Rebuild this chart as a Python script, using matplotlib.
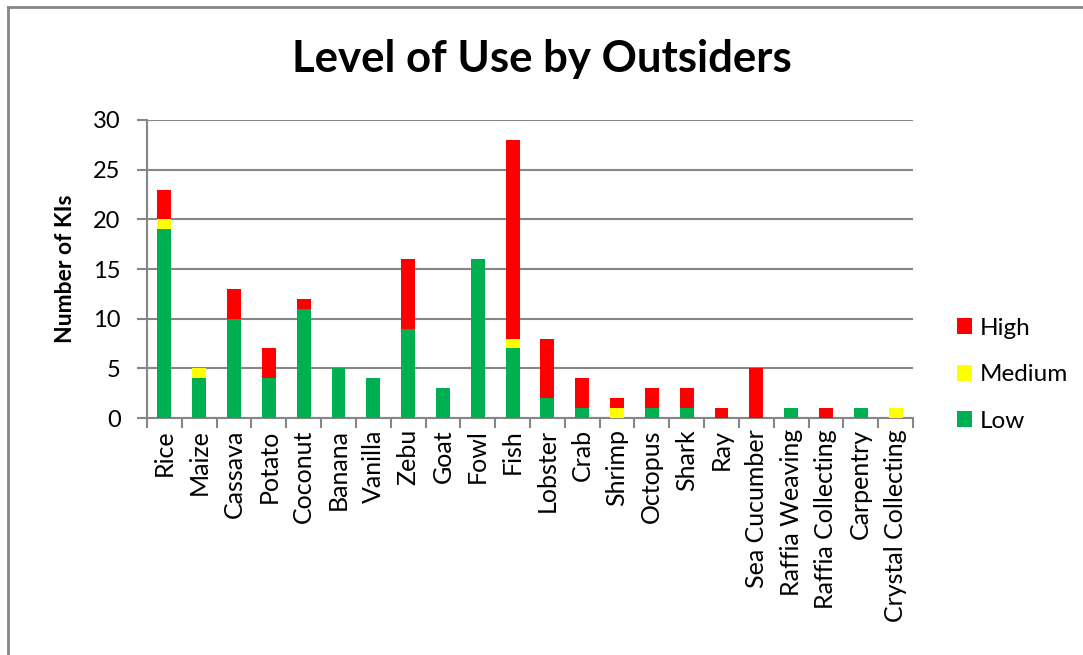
import matplotlib
matplotlib.use("Agg")
import numpy as np
import matplotlib.pyplot as plt
from matplotlib.lines import Line2D

plt.rcParams['font.family'] = ['Lato', 'DejaVu Sans']

# number of key informants per resource and level of use
categories = ['Rice', 'Maize', 'Cassava', 'Potato', 'Coconut', 'Banana', 'Vanilla',
              'Zebu', 'Goat', 'Fowl', 'Fish', 'Lobster', 'Crab', 'Shrimp', 'Octopus',
              'Shark', 'Ray', 'Sea Cucumber', 'Raffia Weaving', 'Raffia Collecting',
              'Carpentry', 'Crystal Collecting']
low    = [19, 4, 10, 4, 11, 5, 4, 9, 3, 16, 7, 2, 1, 0, 1, 1, 0, 0, 1, 0, 1, 0]
medium = [1, 1, 0, 0, 0, 0, 0, 0, 0, 0, 1, 0, 0, 1, 0, 0, 0, 0, 0, 0, 0, 1]
high   = [3, 0, 3, 3, 1, 0, 0, 7, 0, 0, 20, 6, 3, 1, 2, 2, 1, 5, 0, 1, 0, 0]

fig = plt.figure(figsize=(10.83, 6.55), dpi=100)
ax = fig.add_axes([0.1357, 0.3618, 0.7073, 0.455])

x = np.arange(len(categories))
low = np.array(low)
medium = np.array(medium)
high = np.array(high)
w = 0.4
ax.bar(x, low, w, color='#00b050', label='Low', zorder=3)
ax.bar(x, medium, w, bottom=low, color='#ffff00', label='Medium', zorder=3)
ax.bar(x, high, w, bottom=low + medium, color='#ff0000', label='High', zorder=3)

ax.set_xlim(-0.5, len(categories) - 0.5)
ax.set_ylim(0, 30)
ax.set_yticks(range(0, 31, 5))
ax.yaxis.grid(True, color='#868686', linewidth=1.5, zorder=0)
ax.set_axisbelow(True)

ax.set_xticks(x)
ax.set_xticklabels(categories, rotation=90, fontsize=18)
ax.set_xticks(np.arange(-0.5, len(categories)), minor=True)
ax.tick_params(axis='x', which='major', length=0, pad=8)
ax.tick_params(axis='x', which='minor', length=7, width=1.5, color='#868686', direction='out')
ax.tick_params(axis='y', length=7, width=1.5, color='#868686', labelsize=17, pad=12)

for side in ['top', 'right']:
    ax.spines[side].set_visible(False)
for side in ['left', 'bottom']:
    ax.spines[side].set_color('#868686')
    ax.spines[side].set_linewidth(1.5)

ax.set_ylabel('Number of KIs', fontsize=16.5, fontweight='bold', labelpad=12)
fig.text(0.5, 0.91, 'Level of Use by Outsiders', ha='center', va='center',
         fontsize=31.5, fontweight='bold')

handles, labels = ax.get_legend_handles_labels()
ax.legend(handles[::-1], labels[::-1], loc='center left', bbox_to_anchor=(0.863, 0.428),
          bbox_transform=fig.transFigure, frameon=False, fontsize=17.5,
          handlelength=0.65, handleheight=0.65, handletextpad=0.3, labelspacing=1.05)

# chart frame
fig.add_artist(Line2D([0.0075, 0.0075], [0, 0.99], transform=fig.transFigure,
                      color='#868686', linewidth=2))
fig.add_artist(Line2D([0.0075, 1], [0.99, 0.99], transform=fig.transFigure,
                      color='#868686', linewidth=2))

fig.savefig('out.png', dpi=100)
